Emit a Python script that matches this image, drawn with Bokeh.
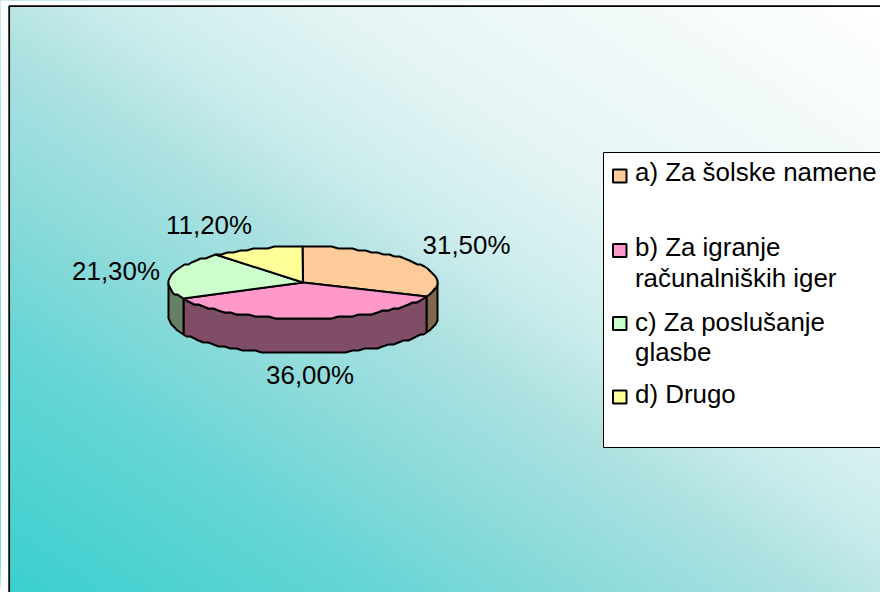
import numpy as np
from bokeh.plotting import figure
from bokeh.embed import file_html
from bokeh.resources import INLINE
from bokeh.core.properties import value

categories = ["a) Za šolske namene", "b) Za igranje", "c) Za poslušanje", "d) Drugo"]
legend_extra = ["", "računalniških iger", "glasbe", ""]
shares = [31.5, 36.0, 21.3, 11.2]
share_labels = ["31,50%", "36,00%", "21,30%", "11,20%"]
top_colors = ["#FFCC99", "#FF99CC", "#CCFFCC", "#FFFF99"]
side_colors = ["#80664D", "#804D66", "#668066", "#808066"]
grad_pos = [0, .226, .314, .445, .5, .55, .63, .69, .877, 1]
grad_red = [59, 105, 133, 168, 186, 203, 218, 230, 245, 255]
grad_green_r = [59, 133, 176, 197, 208, 234, 255]
grad_green = [207, 217, 226, 233, 238, 246, 255]

FONT = value("Liberation Sans")
FS = "25.9px"
CX, CY, RX, RY, DEPTH = 302.5, 282, 134.5, 36, 35

p = figure(width=880, height=592, x_range=(0, 880), y_range=(592, 0),
           output_backend="svg", toolbar_location=None, min_border=0,
           outline_line_color=None, background_fill_color="white", border_fill_color="white")
p.axis.visible = False
p.grid.visible = False

# diagonal gradient background, painted as overlapping half-planes
A, B = 7.2e-4 / 1.25, 1.06e-3 / 1.25   # change of s per px right / up
norm = np.hypot(A, B)
ux, uy = A / norm, -B / norm            # towards white (screen coordinates)
vx, vy = -uy, ux
xs_all, ys_all, cols = [], [], []
for s in np.linspace(0, 1, 128):
    d = s / norm
    px, py = 8 + ux * d, 592 + uy * d
    xs_all.append([px - vx * 2000, px + vx * 2000, px + vx * 2000 + ux * 3000, px - vx * 2000 + ux * 3000])
    ys_all.append([py - vy * 2000, py + vy * 2000, py + vy * 2000 + uy * 3000, py - vy * 2000 + uy * 3000])
    r = np.interp(s + 0.5 / 128, grad_pos, grad_red)
    g = np.interp(r, grad_green_r, grad_green)
    cols.append("#%02x%02x%02x" % (int(round(r)), int(round(g)), int(round(g))))
p.patches(xs_all, ys_all, fill_color=cols, line_color=None)

# margins outside the slide, and its frame
p.quad(left=[0, 0], right=[8, 880], top=[0, 0], bottom=[592, 5], fill_color="white", line_color=None)
p.line([8.7, 8.7, 880], [592, 5.6, 5.6], line_color="black", line_width=1.7)


def ell(a0, a1, dy=0.0, step=3.0):
    n = max(2, int(abs(a1 - a0) / step) + 1)
    a = np.radians(np.linspace(a0, a1, n))
    x = CX + RX * np.sin(a)
    y = CY - RY * np.cos(a) + dy
    return np.round(x), np.round(y / 2) * 2


edges = np.concatenate([[0], np.cumsum(shares)]) * 3.6

# outer wall
for i in range(3):
    a0, a1 = max(edges[i], 90), min(edges[i + 1], 270)
    if a1 <= a0:
        continue
    xt, yt = ell(a0, a1)
    xb, yb = ell(a0, a1, DEPTH)
    p.patch(np.concatenate([xt, xb[::-1]]), np.concatenate([yt, yb[::-1]]),
            fill_color=side_colors[i], line_color="black", line_width=2)

# top slices
for i in range(4):
    xt, yt = ell(edges[i], edges[i + 1])
    p.patch(np.concatenate([[CX], xt]), np.concatenate([[CY], yt]),
            fill_color=top_colors[i], line_color="black", line_width=2)

# value labels
p.text([466, 309.5, 115.5, 208.5], [244.5, 374.5, 270.5, 224.5], text=share_labels, text_font=FONT,
       text_font_size=FS, text_color="black", text_align="center", text_baseline="middle")

# legend box
p.quad(left=603, right=884, top=152, bottom=447, fill_color="white", line_color="black", line_width=1)
sw_y = [175.5, 250, 323, 396.5]
p.quad(left=[612.5] * 4, right=[626] * 4, top=[y - 6.5 for y in sw_y], bottom=[y + 6.5 for y in sw_y],
       fill_color=top_colors, line_color="black", line_width=2)
p.text([634.5] * 4, [171.5, 246.5, 321.5, 393.5], text=categories, text_font=FONT, text_font_size=FS,
       text_color="black", text_baseline="middle")
p.text([634.5, 634.5], [277.5, 351.5], text=[legend_extra[1], legend_extra[2]], text_font=FONT,
       text_font_size=FS, text_color="black", text_baseline="middle")

open("out.html", "w").write(file_html(p, INLINE))
